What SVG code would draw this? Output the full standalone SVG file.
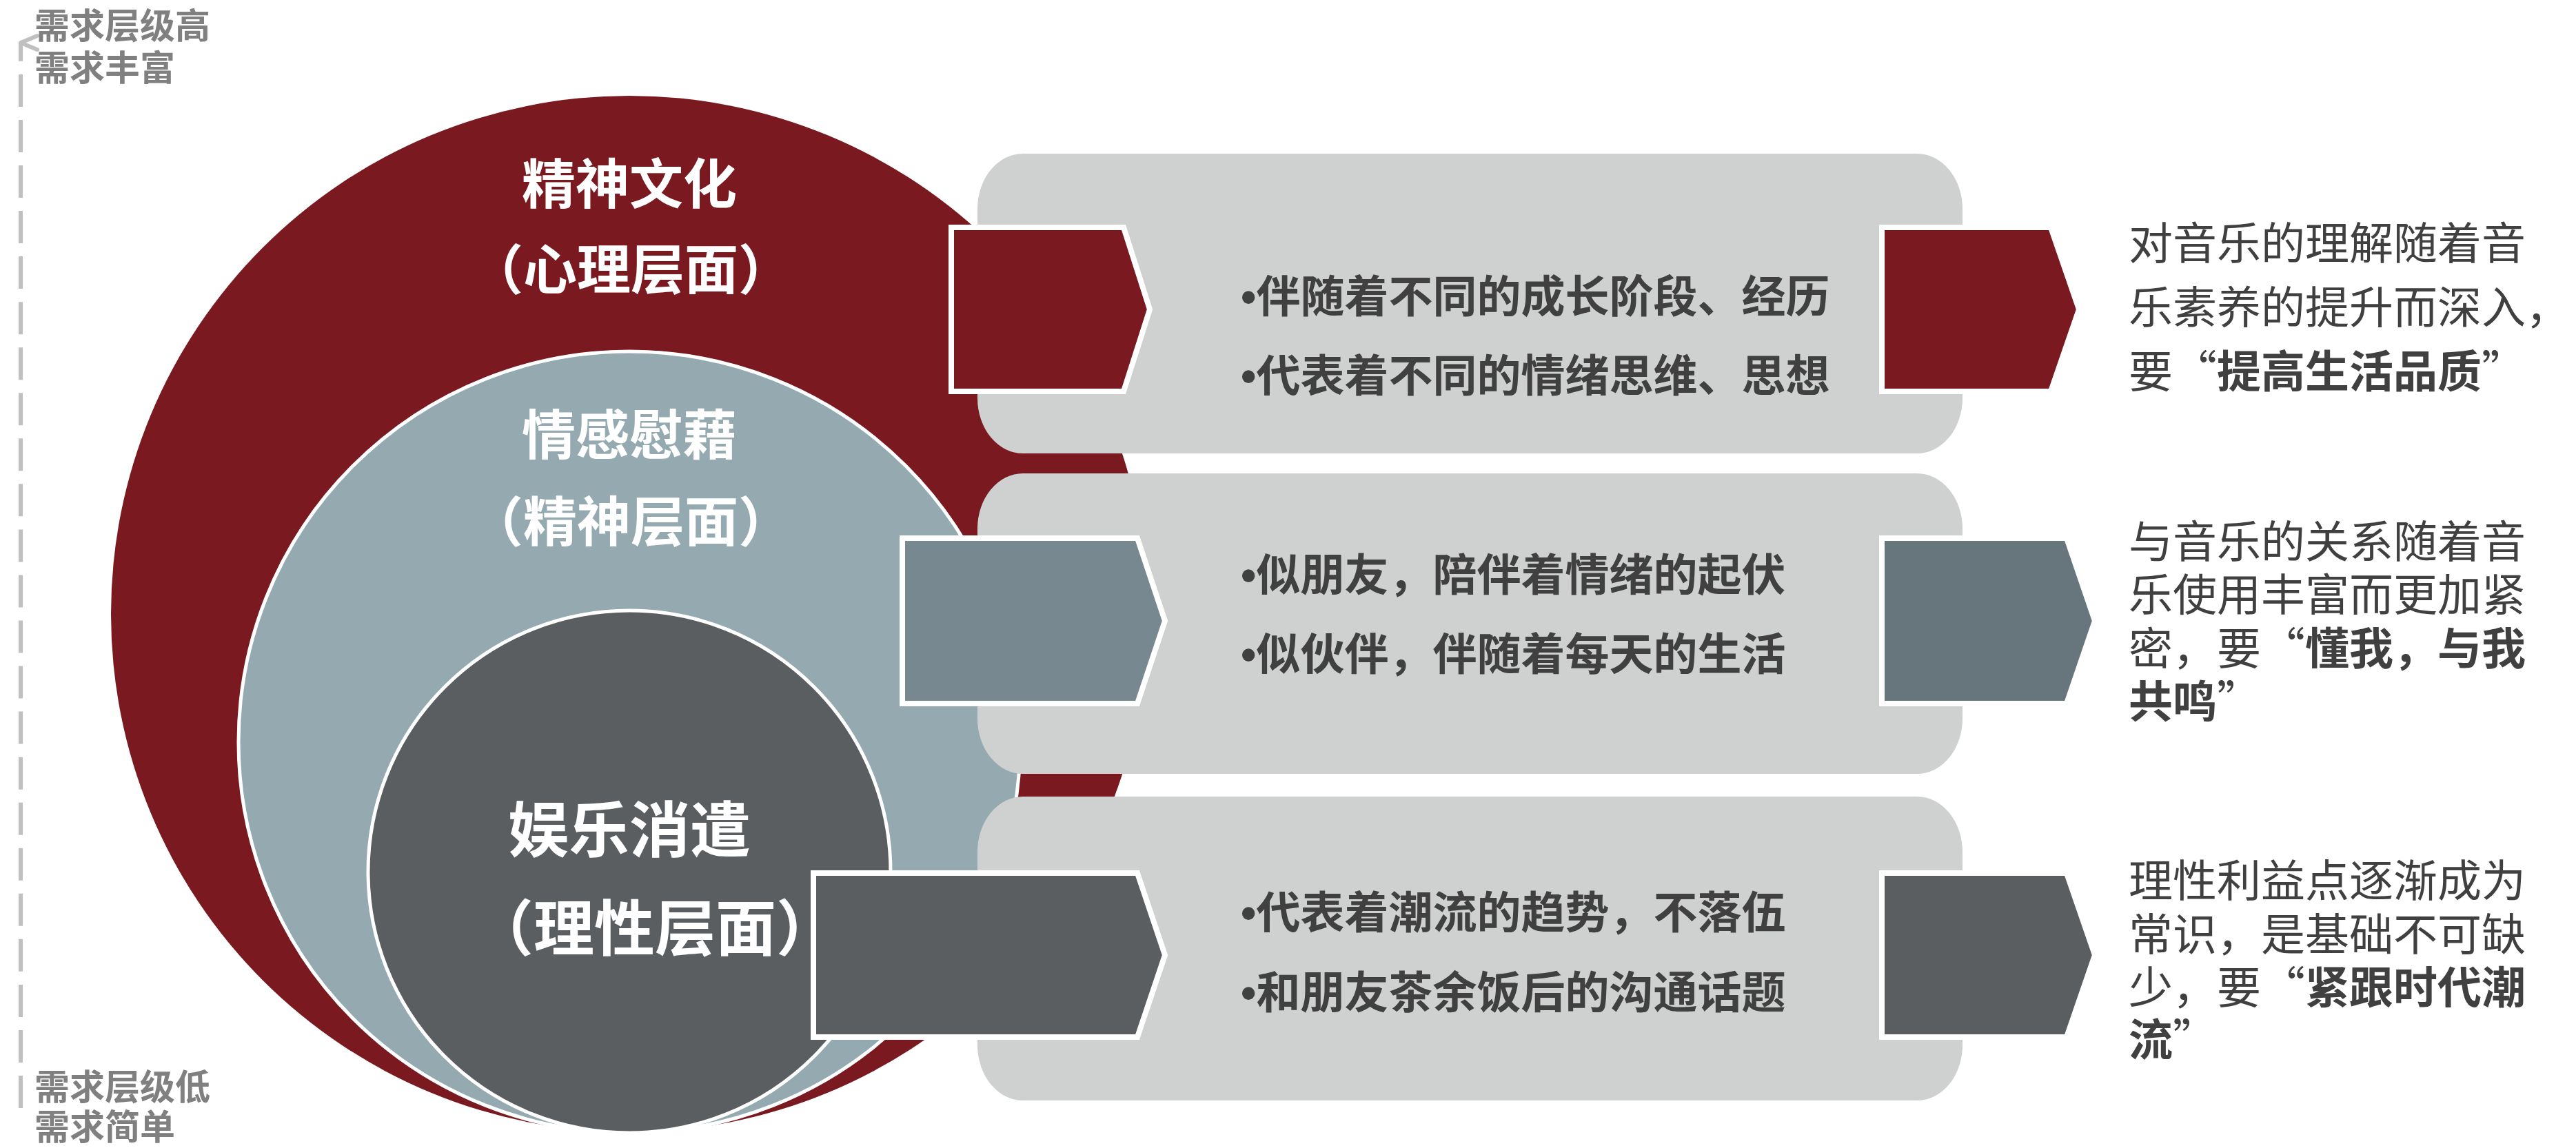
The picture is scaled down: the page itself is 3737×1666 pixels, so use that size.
<svg xmlns="http://www.w3.org/2000/svg" width="3737" height="1666" viewBox="0 0 3737 1666">
<style>
  .cjk { font-family: "Noto Sans CJK SC", "Noto Sans", sans-serif; }
  .axis { font-size: 51px; font-weight: 700; fill: #808080; }
  .clabel { font-weight: 700; fill: #ffffff; text-anchor: middle; }
  .bullet { font-size: 64px; font-weight: 700; fill: #404040; }
  .desc { font-size: 64px; font-weight: 400; fill: #404040; }
  .b { font-weight: 700; }
  .panel { fill: #cfd1d0; }
  .chev { stroke: #ffffff; stroke-width: 8; stroke-linejoin: miter; }
  .ring { stroke: #ffffff; stroke-width: 5; }
  .lat { font-family: "Liberation Sans", sans-serif; }
</style>
<defs>
  <marker id="vhead" markerUnits="userSpaceOnUse" markerWidth="40" markerHeight="40" refX="20" refY="4" orient="auto-start-reverse" viewBox="0 0 40 40">
    <path d="M10,28 L20,4 L30,28" fill="none" stroke="#c0c0c0" stroke-width="6" stroke-linecap="round" stroke-linejoin="round"/>
  </marker>
</defs>
<rect x="0" y="0" width="3737" height="1666" fill="#ffffff"/>

<g id="connectors">
  <line x1="30" y1="1608" x2="30" y2="62" stroke="#c0c0c0" stroke-width="6" stroke-dasharray="47 19.05" stroke-dashoffset="0" marker-end="url(#vhead)"/>
</g>

<g id="axis-labels" class="cjk axis">
  <text x="50" y="56">需求层级高</text>
  <text x="50" y="117">需求丰富</text>
  <text x="50" y="1596">需求层级低</text>
  <text x="50" y="1654">需求简单</text>
</g>

<g id="circle-outer">
  <circle cx="913" cy="891" r="752" fill="#7a1920"/>
</g>
<g id="circle-middle">
  <circle class="ring" cx="913" cy="1077" r="567" fill="#94aab0"/>
</g>
<g id="circle-inner">
  <circle class="ring" cx="913" cy="1265" r="379" fill="#5a5e60"/>
</g>

<g id="panel-1"><rect class="panel" x="1418" y="223" width="1429" height="435" rx="66" ry="80"/></g>
<g id="panel-2"><rect class="panel" x="1418" y="687" width="1429" height="436" rx="66" ry="80"/></g>
<g id="panel-3"><rect class="panel" x="1418" y="1156" width="1429" height="441" rx="66" ry="80"/></g>

<g id="chevron-left-1"><polygon class="chev" fill="#7a1920" points="1380,330 1630,330 1668,449 1630,568 1380,568"/></g>
<g id="chevron-left-2"><polygon class="chev" fill="#778890" points="1309,781 1650,781 1690,901 1650,1021 1309,1021"/></g>
<g id="chevron-left-3"><polygon class="chev" fill="#5a5e60" points="1180,1267 1650,1267 1690,1386 1650,1505 1180,1505"/></g>

<g id="chevron-right-1"><polygon class="chev" fill="#7a1920" points="2730,330 2975,330 3016,449 2975,568 2730,568"/></g>
<g id="chevron-right-2"><polygon class="chev" fill="#66767c" points="2730,781 2998,781 3039,901 2998,1021 2730,1021"/></g>
<g id="chevron-right-3"><polygon class="chev" fill="#5a5e60" points="2730,1267 2998,1267 3039,1386 2998,1505 2730,1505"/></g>

<g id="label-outer" class="cjk clabel" font-size="78">
  <text x="913" y="296">精神文化</text>
  <text x="915" y="420">（心理层面）</text>
</g>
<g id="label-middle" class="cjk clabel" font-size="78">
  <text x="913" y="660">情感慰藉</text>
  <text x="915" y="786">（精神层面）</text>
</g>
<g id="label-inner" class="cjk clabel" font-size="88">
  <text x="913" y="1236">娱乐消遣</text>
  <text x="950" y="1379">（理性层面）</text>
</g>

<g id="panel-text-1" class="cjk bullet">
  <text x="1800" y="453"><tspan class="lat">•</tspan>伴随着不同的成长阶段、经历</text>
  <text x="1800" y="568"><tspan class="lat">•</tspan>代表着不同的情绪思维、思想</text>
</g>
<g id="panel-text-2" class="cjk bullet">
  <text x="1800" y="857"><tspan class="lat">•</tspan>似朋友，陪伴着情绪的起伏</text>
  <text x="1800" y="972"><tspan class="lat">•</tspan>似伙伴，伴随着每天的生活</text>
</g>
<g id="panel-text-3" class="cjk bullet">
  <text x="1800" y="1347"><tspan class="lat">•</tspan>代表着潮流的趋势，不落伍</text>
  <text x="1800" y="1463"><tspan class="lat">•</tspan>和朋友茶余饭后的沟通话题</text>
</g>

<g id="result-1" class="cjk desc">
  <text x="3088" y="376">对音乐的理解随着音</text>
  <text x="3088" y="469">乐素养的提升而深入，</text>
  <text x="3088" y="562">要“<tspan class="b">提高生活品质</tspan>”</text>
</g>
<g id="result-2" class="cjk desc">
  <text x="3088" y="809">与音乐的关系随着音</text>
  <text x="3088" y="886">乐使用丰富而更加紧</text>
  <text x="3088" y="964">密，要“<tspan class="b">懂我，与我</tspan></text>
  <text x="3088" y="1041"><tspan class="b">共鸣</tspan>”</text>
</g>
<g id="result-3" class="cjk desc">
  <text x="3088" y="1301">理性利益点逐渐成为</text>
  <text x="3088" y="1379">常识，是基础不可缺</text>
  <text x="3088" y="1456">少，要“<tspan class="b">紧跟时代潮</tspan></text>
  <text x="3088" y="1532"><tspan class="b">流</tspan>”</text>
</g>
</svg>
